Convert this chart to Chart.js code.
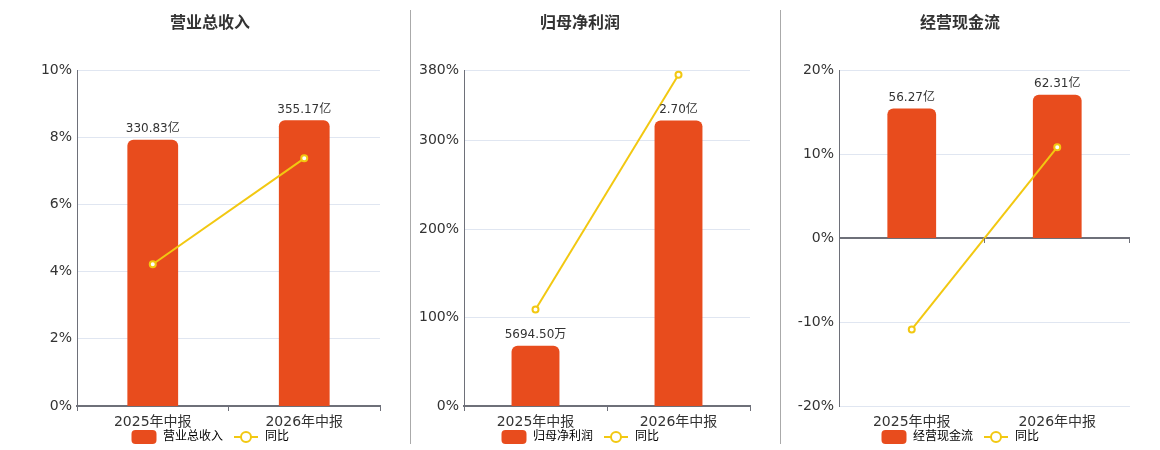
<!DOCTYPE html>
<html><head><meta charset="utf-8">
<script src="https://cdn.jsdelivr.net/npm/chart.js@4.4.0/dist/chart.umd.min.js"></script>
<style>
html,body{margin:0;padding:0;background:#fff;}
#wrap{position:relative;width:1160px;height:450px;overflow:hidden;}
.pane{position:absolute;top:0;height:450px;}
.sep{position:absolute;top:10px;height:434px;width:1px;background:#aaa;}
</style></head><body>
<div id="wrap">
  <div class="pane" style="left:0;width:420px"><canvas id="c1"></canvas></div>
  <div class="pane" style="left:400px;width:360px"><canvas id="c2"></canvas></div>
  <div class="pane" style="left:780px;width:360px"><canvas id="c3"></canvas></div>
  <div class="sep" style="left:410px"></div>
  <div class="sep" style="left:780px"></div>
</div>
<script>
// ---- data ----
const categories = ['2025年中报', '2026年中报'];
const yoyLabel = '同比';

const revenueTitle = '营业总收入';
const revenueValues = [330.83, 355.17];          // 亿
const revenueLabels = ['330.83亿', '355.17亿'];
const revenueYoy = [4.22, 7.37];                 // %
const revenueTicks = [0, 2, 4, 6, 8, 10];

const profitTitle = '归母净利润';
const profitValues = [0.56945, 2.70];            // 亿
const profitLabels = ['5694.50万', '2.70亿'];
const profitYoy = [109.1, 374.7];                // %
const profitTicks = [0, 100, 200, 300, 380];

const cashTitle = '经营现金流';
const cashValues = [56.27, 62.31];               // 亿
const cashLabels = ['56.27亿', '62.31亿'];
const cashYoy = [-10.88, 10.81];                 // %
const cashTicks = [-20, -10, 0, 10, 20];

// ---- styling ----
const FONT = '"DejaVu Sans", "Noto Sans CJK SC", sans-serif';
const BAR = '#e84c1d';
const LINE = '#f2c811';
const AXIS = '#6e7079';
const GRID = '#e0e6f1';
const TXT = '#333';

function makeIcon(kind) {
  const c = document.createElement('canvas');
  c.width = 26; c.height = 14;
  const g = c.getContext('2d');
  if (kind === 'bar') {
    g.fillStyle = BAR;
    g.beginPath();
    g.roundRect(0.5, 0, 25, 14, 4);
    g.fill();
  } else {
    g.strokeStyle = LINE; g.lineWidth = 2;
    g.beginPath(); g.moveTo(1, 7); g.lineTo(25, 7); g.stroke();
    g.fillStyle = '#fff';
    g.beginPath(); g.arc(13, 7, 5, 0, Math.PI * 2); g.fill(); g.stroke();
  }
  return c;
}
const icons = [makeIcon('bar'), makeIcon('line')];

const barLabelPlugin = {
  id: 'barLabels',
  afterLayout(chart) {
    // let the x tick labels extend below the (shortened) axis box
    chart.scales.x.bottom = chart.height;
  },
  afterDatasetsDraw(chart, args, opts) {
    const ctx = chart.ctx;
    ctx.save();
    // small tick marks on the zero axis line
    if (opts.zeroAxis) {
      const xs = chart.scales.x, ys = chart.scales.y;
      const y0 = ys.getPixelForValue(0);
      ctx.strokeStyle = AXIS; ctx.lineWidth = 1;
      const step = (xs.right - xs.left) / categories.length;
      for (let i = 1; i <= categories.length; i++) {
        const x = Math.round(xs.left + step * i) - 0.5;
        ctx.beginPath(); ctx.moveTo(x, y0); ctx.lineTo(x, y0 + 5); ctx.stroke();
      }
    }
    const meta = chart.getDatasetMeta(0);
    ctx.font = '12px ' + FONT;
    ctx.fillStyle = TXT;
    ctx.textAlign = 'center';
    ctx.textBaseline = 'middle';
    meta.data.forEach((el, i) => {
      ctx.fillText(opts.texts[i], el.x, el.y - 10.5);
    });
    ctx.restore();
  }
};

function build(id, cfg) {
  const zeroAxis = cfg.zeroAxis;
  return new Chart(document.getElementById(id), {
    data: {
      labels: categories,
      datasets: [
        {
          type: 'bar', label: cfg.title, data: cfg.values, yAxisID: 'y1', order: 2,
          backgroundColor: BAR, barPercentage: 0.335, categoryPercentage: 1,
          borderRadius: { topLeft: 6, topRight: 6, bottomLeft: 0, bottomRight: 0 }, borderSkipped: 'bottom'
        },
        {
          type: 'line', label: yoyLabel, data: cfg.yoy, yAxisID: 'y', order: 1,
          borderColor: LINE, borderWidth: 2, pointRadius: 3, pointBorderWidth: 2,
          pointBackgroundColor: '#fff', pointBorderColor: LINE, tension: 0
        }
      ]
    },
    options: {
      responsive: true, maintainAspectRatio: false, animation: false, events: [],
      layout: { padding: { top: 0, bottom: -3, left: 0, right: 0 } },
      plugins: {
        tooltip: { enabled: false },
        title: {
          display: true, text: cfg.title, color: TXT,
          font: { family: FONT, size: 16, weight: 'bold' },
          padding: { top: 14, bottom: 36.8 }
        },
        legend: {
          position: 'bottom',
          labels: {
            usePointStyle: true, pointStyleWidth: 26, boxHeight: 14, padding: 10,
            color: '#444', font: { family: FONT, size: 12 },
            generateLabels(chart) {
              return chart.data.datasets.map((ds, i) => ({
                text: ds.label, pointStyle: icons[i], fillStyle: 'transparent',
                strokeStyle: 'transparent', lineWidth: 0, hidden: false, datasetIndex: i
              }));
            }
          }
        },
        barLabels: { texts: cfg.texts, zeroAxis: zeroAxis }
      },
      scales: {
        x: {
          offset: true,
          border: { display: !zeroAxis, color: AXIS, width: 2 },
          grid: { display: !zeroAxis, offset: true, drawOnChartArea: false, drawTicks: true, tickLength: 5, color: AXIS, lineWidth: 1 },
          ticks: { color: TXT, font: { family: FONT, size: 14 }, padding: 2.6, maxRotation: 0 },
          afterFit: s => { s.height = 15; }
        },
        y: {
          position: 'left', min: cfg.ticks[0], max: cfg.ticks[cfg.ticks.length - 1],
          border: { display: true, color: AXIS, width: 1 },
          grid: {
            drawTicks: false,
            color: c => (zeroAxis && c.tick.value === 0) ? AXIS : GRID,
            lineWidth: c => (zeroAxis && c.tick.value === 0) ? 2 : 1
          },
          ticks: { color: TXT, font: { family: FONT, size: 14 }, padding: 5, callback: v => v + '%' },
          afterBuildTicks: s => { s.ticks = cfg.ticks.map(v => ({ value: v })); },
          afterFit: s => { s.width = cfg.leftW; }
        },
        y1: {
          position: 'right', min: cfg.barMin, max: cfg.barMax,
          display: true,
          border: { display: false }, grid: { display: false },
          ticks: { display: false },
          afterFit: s => { s.width = cfg.rightW; }
        }
      }
    },
    plugins: [barLabelPlugin]
  });
}

build('c1', { title: revenueTitle, values: revenueValues, texts: revenueLabels, yoy: revenueYoy,
  ticks: revenueTicks, barMin: 0, barMax: 417.6, leftW: 77, rightW: 40, zeroAxis: false });
build('c2', { title: profitTitle, values: profitValues, texts: profitLabels, yoy: profitYoy,
  ticks: profitTicks, barMin: 0, barMax: 3.178, leftW: 64, rightW: 10, zeroAxis: false });
build('c3', { title: cashTitle, values: cashValues, texts: cashLabels, yoy: cashYoy,
  ticks: cashTicks, barMin: -73.05, barMax: 73.05, leftW: 59, rightW: 10, zeroAxis: true });
</script>
</body></html>
